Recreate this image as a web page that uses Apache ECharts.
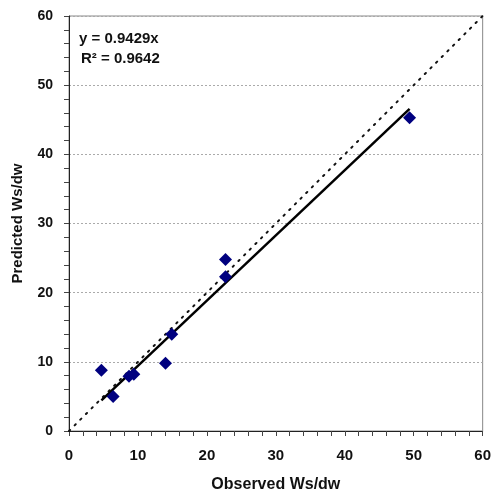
<!DOCTYPE html>
<html>
<head>
<meta charset="utf-8">
<script src="https://cdn.jsdelivr.net/npm/echarts@6/dist/echarts.min.js"></script>
<style>
  html, body { margin: 0; padding: 0; background: #fff; }
  #chart { width: 494px; height: 498px; }
</style>
</head>
<body>
<div id="chart"></div>
<script>
// Observed vs predicted Ws/dw
var observed  = [4.7, 6.4, 8.7, 9.4, 14.0, 14.9, 22.7, 22.7, 49.4];
var predicted = [8.8, 5.0, 7.9, 8.2, 9.8, 14.0, 24.8, 22.3, 45.3];
var slope = 0.9429;
var rSquared = 0.9642;
var axisTicks = [0, 10, 20, 30, 40, 50, 60];

var points = observed.map(function (x, i) { return [x, predicted[i]]; });
var xMin = Math.min.apply(null, observed);
var xMax = Math.max.apply(null, observed);
var fitLine = [[xMin, slope * xMin], [xMax, slope * xMax]];
var oneToOne = [[axisTicks[0], axisTicks[0]], [axisTicks[axisTicks.length - 1], axisTicks[axisTicks.length - 1]]];

var font = 'Liberation Sans, Arial, sans-serif';

function axis(name, isX) {
  return {
    type: 'value',
    min: axisTicks[0],
    max: axisTicks[axisTicks.length - 1],
    interval: 10,
    name: name,
    nameLocation: 'middle',
    nameGap: isX ? 46 : 44,
    nameTextStyle: { fontFamily: font, fontWeight: 'bold', fontSize: isX ? 16 : 15, color: '#111' },
    axisLine: { show: true, onZero: false, lineStyle: { color: '#222', width: 1 } },
    axisTick: { show: true, inside: false, length: 5, lineStyle: { color: '#444' } },
    minorTick: { show: true, splitNumber: 5, length: 5, lineStyle: { color: '#444' } },
    axisLabel: { fontFamily: font, fontWeight: 'bold', fontSize: isX ? 15 : 14, color: '#111', margin: isX ? 17 : 16 },
    splitLine: isX ? { show: false } : { show: true, lineStyle: { color: '#aaa', type: [2, 2], width: 1 } }
  };
}

var chart = echarts.init(document.getElementById('chart'), null, { renderer: 'canvas' });
chart.setOption({
  animation: false,
  backgroundColor: '#fff',
  grid: { left: 69, right: 8, top: 16, bottom: 65, show: true, borderColor: '#888', borderWidth: 1, backgroundColor: 'transparent' },
  xAxis: axis('Observed Ws/dw', true),
  yAxis: axis('Predicted Ws/dw', false),
  graphic: [
    { type: 'text', left: 79, top: 31, style: { text: 'y = ' + slope.toFixed(4) + 'x', font: 'bold 15px ' + font, fill: '#111' } },
    { type: 'text', left: 81, top: 51, style: { text: 'R\u00b2 = ' + rSquared.toFixed(4), font: 'bold 15px ' + font, fill: '#111' } }
  ],
  series: [
    {
      type: 'line', data: oneToOne, symbol: 'none', z: 2,
      lineStyle: { color: '#111', width: 2, type: [1.5, 6.5], cap: 'round' }
    },
    {
      type: 'line', data: fitLine, symbol: 'none', z: 3,
      lineStyle: { color: '#000', width: 2.5 }
    },
    {
      type: 'scatter', data: points, symbol: 'diamond', symbolSize: 13, z: 4,
      itemStyle: { color: '#00007f', opacity: 1 }
    }
  ]
});
</script>
</body>
</html>
